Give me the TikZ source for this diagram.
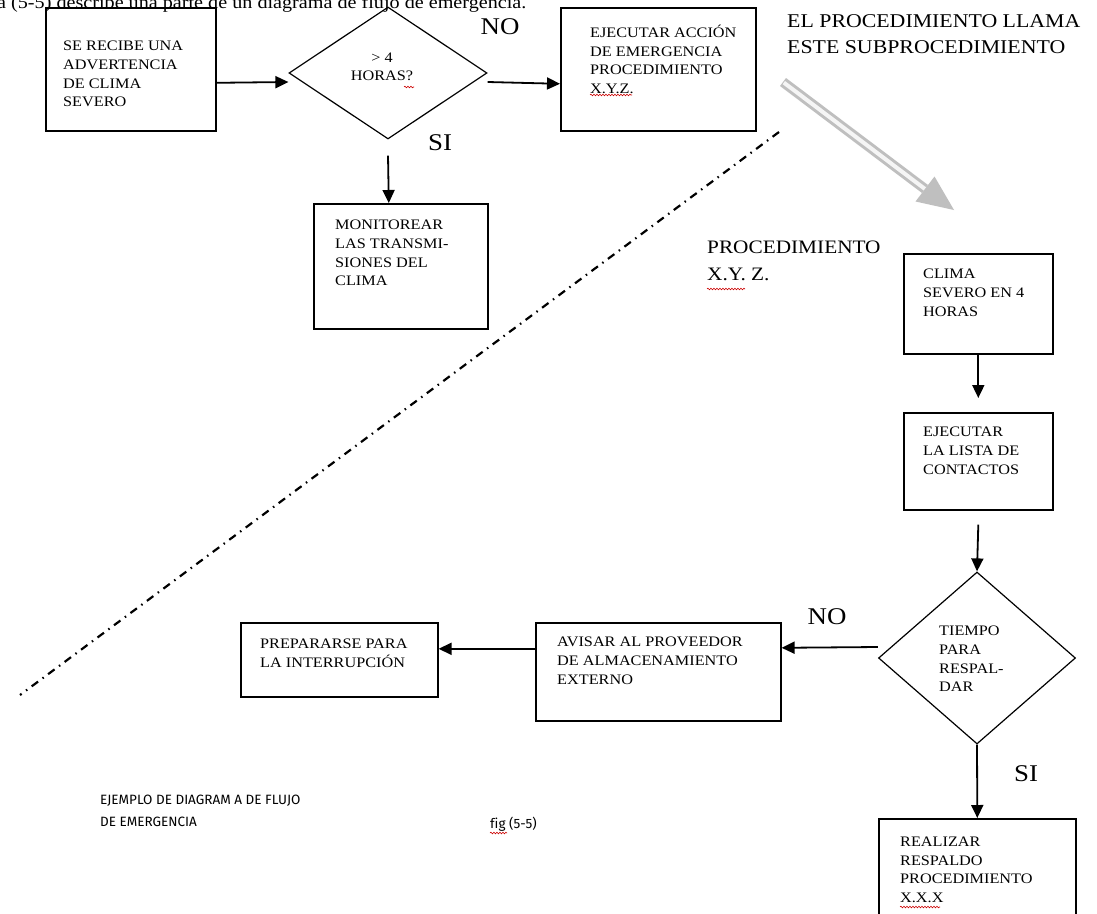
\documentclass[tikz,border=0pt]{standalone}
\usepackage{fontspec}
\setmainfont{Liberation Serif}[FakeStretch=1.12]
\newfontfamily\capfont{Fira Sans}[Ligatures=NoCommon]
\usetikzlibrary{arrows.meta,shapes.geometric,decorations.pathmorphing}

\tikzset{
  box/.style={draw, line width=1.6pt, rectangle, inner sep=0pt, anchor=north west},
  dmd/.style={draw, line width=1.2pt, diamond, inner sep=0pt},
  txt/.style={inner sep=0pt, anchor=north west, align=left,
    font=\fontsize{14.5}{18.6}\selectfont, execute at begin node={\rule{0pt}{11pt}}},
  lbl/.style={inner sep=0pt, font=\fontsize{24}{26}\selectfont},
  big/.style={inner sep=0pt, anchor=north west, align=left,
    execute at begin node={\rule{0pt}{15pt}}},
  arr/.style={line width=1.8pt, -{Triangle[length=13pt,width=12pt]}},
  squig/.style={red!80!black, line width=0.6pt, decorate,
    decoration={snake, amplitude=0.8pt, segment length=3pt}},
  dashdot/.style={line width=2.2pt, dash pattern=on 8pt off 5.5pt on 1.5pt off 5.5pt},
}

\begin{document}
\begin{tikzpicture}[x=1pt,y=-1pt]
\useasboundingbox (0,0) rectangle (1097,913);
\fill[white] (0,0) rectangle (1097,913);

% line of running text above the chart
\node[inner sep=0pt, anchor=base west, font=\fontsize{18}{20}\selectfont] (intro) at (-3,8)
  {a (5-5) describe una parte de un diagrama de flujo de emergencia.};

% ---- upper chart ----
\node[box, minimum width=170pt, minimum height=123pt] (b1) at (45,7) {};
\node[txt] (t1) at (63,41) {SE RECIBE UNA\\ADVERTENCIA\\DE CLIMA\\SEVERO};

\node[dmd, minimum width=198pt, minimum height=132pt] (d1) at (388,73) {};
\node[txt, anchor=center, align=center] (t2) at (382,67) {{>} 4\\HORAS?};

\node[box, minimum width=195pt, minimum height=123pt] (b3) at (560,7) {};
\node[txt] (t3) at (590,25) {EJECUTAR ACCIÓN\\DE EMERGENCIA\\PROCEDIMIENTO\\X.Y.Z.};

\node[box, minimum width=174pt, minimum height=125pt] (b4) at (313,203) {};
\node[txt] (t4) at (335,220) {MONITOREAR\\LAS TRANSMI-\\SIONES DEL\\CLIMA};

\draw[arr] ([yshift=-13.5pt]b1.east) -- ([yshift=-9pt]d1.west);
\draw[arr] ([yshift=-9pt]d1.east) -- ([yshift=-14.5pt]b3.west);
\draw[arr] ([yshift=-16pt]d1.south) -- ([xshift=-12pt]b4.north);

\node[lbl] (no1) at (500,27) {NO};
\node[lbl] (si1) at (440,143) {SI};

% ---- call to the subprocedure ----
\node[big, font=\fontsize{19.5}{26}\selectfont] (call) at (787,14)
  {EL PROCEDIMIENTO LLAMA\\ESTE SUBPROCEDIMIENTO};

\coordinate (gs) at (783,82);
\coordinate (gb) at (925,189);
\coordinate (gt) at (954,210);
\draw[gray!50, line width=10pt] (gs) -- (gb);
\draw[gray!8, line width=4pt] ([shift={(0.8,0.6)}]gs) -- (gb);
\fill[gray!50] (915.5,201.5) -- (gt) -- (934.5,176.5) -- cycle;

% boundary between the procedure and its subprocedure
\coordinate (dd1) at (779,132);
\coordinate (dd2) at (20,695);
\draw[dashdot] (dd1) -- (dd2);

\node[big, font=\fontsize{19}{27}\selectfont] (proc) at (707,241)
  {PROCEDIMIENTO\\X.Y. Z.};

% ---- subprocedure chart ----
\node[box, minimum width=149pt, minimum height=100pt] (b5) at (903,253) {};
\node[txt] (t5) at (923,269) {CLIMA\\SEVERO EN 4\\HORAS};

\node[box, minimum width=149pt, minimum height=97pt] (b6) at (903,412) {};
\node[txt] (t6) at (923,427) {EJECUTAR\\LA LISTA DE\\CONTACTOS};

\node[dmd, minimum width=197pt, minimum height=172pt] (d2) at (977,658) {};
\node[txt] (t7) at (939,626) {TIEMPO\\PARA\\RESPAL-\\DAR};

\node[box, minimum width=197pt, minimum height=130pt] (b7) at (878,818) {};
\node[txt] (t8) at (900,837) {REALIZAR\\RESPALDO\\PROCEDIMIENTO\\X.X.X};

\node[box, minimum width=245pt, minimum height=98pt] (b8) at (535,622) {};
\node[txt] (t9) at (557,637) {AVISAR AL PROVEEDOR\\DE ALMACENAMIENTO\\EXTERNO};

\node[box, minimum width=197pt, minimum height=74pt] (b9) at (240,622) {};
\node[txt] (t10) at (260,639) {PREPARARSE PARA\\LA INTERRUPCIÓN};

\draw[arr] (b5.south) -- ([yshift=14pt]b6.north);
\draw[arr] ([yshift=-14pt]b6.south) -- (d2.north);
\draw[arr] (d2.south) -- (b7.north);
\draw[arr] ([yshift=11pt]d2.west) -- ([yshift=24pt]b8.east);
\draw[arr] ([yshift=23pt]b8.west) -- ([yshift=11pt]b9.east);

\node[lbl] (no2) at (827,617) {NO};
\node[lbl] (si2) at (1026,774) {SI};

% ---- caption ----
\node[inner sep=0pt, anchor=north west, align=left, font=\capfont\fontsize{13.5}{22}\selectfont] (cap) at (100,795)
  {EJEMPLO DE DIAGRAM A DE FLUJO\\DE EMERGENCIA};
\node[inner sep=0pt, anchor=base west, font=\capfont\fontsize{13.5}{14}\selectfont] (fig) at (490,828) {fig (5-5)};

% spell-check marks
\draw[squig] (590,95) -- (632,95);
\draw[squig] (707,289) -- (745,289);
\draw[squig] (900,907) -- (940,907);
\draw[squig] (404,87) -- (414,87);
\draw[squig] (490,833) -- (507,833);
\end{tikzpicture}
\end{document}
